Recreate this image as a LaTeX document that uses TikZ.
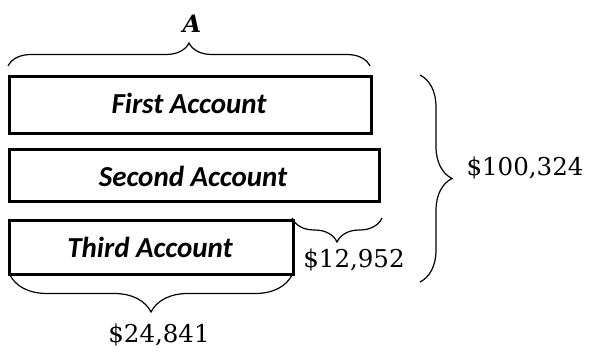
\documentclass[tikz,border=0pt]{standalone}
\usepackage{fontspec}
\newfontfamily\boxfont{Carlito}
\newfontfamily\amtfont{DejaVu Serif}
\usetikzlibrary{decorations.pathreplacing}
\begin{document}
\begin{tikzpicture}[x=1pt,y=-1pt,
  acct/.style={draw,line width=2.6pt,inner sep=0pt,anchor=north west},
  lbl/.style={font=\boxfont\bfseries\itshape\fontsize{29}{32}\selectfont},
  amt/.style={font=\amtfont\fontsize{24.5}{28}\selectfont},
  brc/.style={draw,line width=1.2pt,decorate,decoration={brace,amplitude=#1}}]
\useasboundingbox (0,0) rectangle (594,358);
\node[acct,minimum width=362pt,minimum height=57pt] (b1) at (8,75) {};
\node[lbl] (t1) at (189,103) {First Account};
\node[acct,minimum width=370pt,minimum height=52pt] (b2) at (8,148) {};
\node[lbl] (t2) at (193,176) {Second Account};
\node[acct,minimum width=284pt,minimum height=54pt] (b3) at (8,219) {};
\node[lbl] (t3) at (150,247) {Third Account};
\coordinate (a1) at (8,66);
\coordinate (a2) at (370,66);
\draw[brc=23] (a1) -- (a2);
\node[font=\amtfont\bfseries\itshape\fontsize{24}{28}\selectfont] (A) at (192,24) {A};
\coordinate (s1) at (382,218);
\coordinate (s2) at (292,218);
\draw[brc=24] (s1) -- (s2);
\node[amt] (l1) at (354,260) {\$12,952};
\coordinate (r1) at (420,75);
\coordinate (r2) at (420,282);
\draw[brc=32] (r1) -- (r2);
\node[amt] (l2) at (525,168) {\$100,324};
\coordinate (d1) at (292,275);
\coordinate (d2) at (10,275);
\draw[brc=37] (d1) -- (d2);
\node[amt] (l3) at (159,335) {\$24,841};
\end{tikzpicture}
\end{document}
